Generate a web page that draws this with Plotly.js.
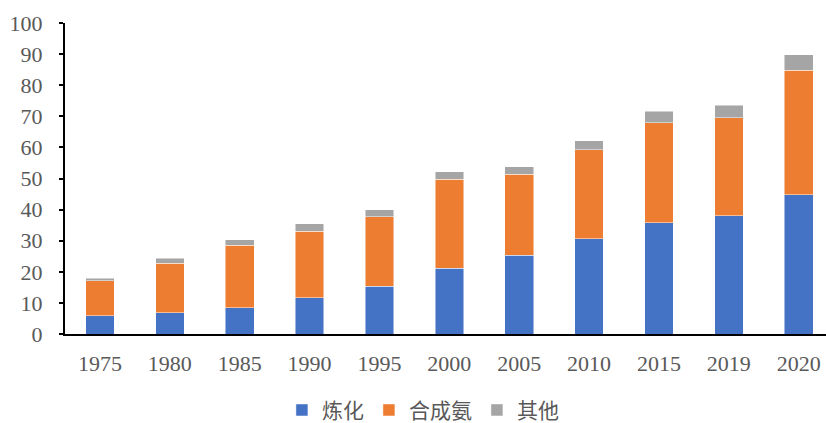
<!DOCTYPE html>
<html>
<head>
<meta charset="utf-8">
<script src="https://cdn.plot.ly/plotly-3.0.1.min.js"></script>
<style>html,body{margin:0;padding:0;background:#fff;}#chart{width:826px;height:423px;}</style>
</head>
<body>
<div id="chart"></div>
<script>
var years = ['1975','1980','1985','1990','1995','2000','2005','2010','2015','2019','2020'];
var refining = [5.9, 6.8, 8.4, 11.7, 15.4, 21.2, 25.4, 30.6, 35.7, 38.1, 44.8];
var ammonia = [11.2, 16.0, 20.2, 21.4, 22.3, 28.5, 25.9, 28.7, 32.2, 31.5, 40.0];
var others = [0.8, 1.6, 1.7, 2.3, 2.2, 2.5, 2.5, 2.8, 3.8, 4.0, 5.0];
var yTicks = [0,10,20,30,40,50,60,70,80,90,100];

function mk(name, vals, color) {
  return {type:'bar', name:name, x:years, y:vals,
    marker:{color:color, line:{color:'rgba(255,255,255,0.6)', width:0.8}},
    hoverinfo:'x+y+name'};
}
var data = [
  mk('炼化', refining, '#4472C4'),
  mk('合成氨', ammonia, '#ED7D31'),
  mk('其他', others, '#A5A5A5')
];
var layout = {
  width:826, height:423,
  margin:{l:65, r:0, t:23, b:89},
  barmode:'stack', bargap:0.59,
  paper_bgcolor:'#fff', plot_bgcolor:'#fff',
  showlegend:true,
  legend:{orientation:'h', xref:'container', yref:'container', x:0.512, xanchor:'center', y:0.03, yanchor:'middle',
    font:{family:'Noto Sans CJK SC', size:21, color:'#595959'}, itemwidth:30, itemgap:2, traceorder:'normal'},
  xaxis:{type:'category', range:[-0.5, 10.39], showline:true, linecolor:'#000', linewidth:2,
    ticks:'', showgrid:false, zeroline:false, ticklabelstandoff:9, automargin:false,
    tickfont:{family:'Liberation Serif', size:22, color:'#595959'}},
  yaxis:{range:[0,100], tickvals:yTicks, ticktext:yTicks.map(String), showline:true, linecolor:'#000', linewidth:2,
    ticks:'outside', ticklen:4, tickcolor:'#000', tickwidth:2, showgrid:false, zeroline:false,
    ticklabelstandoff:12, automargin:false,
    tickfont:{family:'Liberation Serif', size:22, color:'#595959'}}
};
Plotly.newPlot('chart', data, layout, {staticPlot:true, displayModeBar:false});
</script>
</body>
</html>
